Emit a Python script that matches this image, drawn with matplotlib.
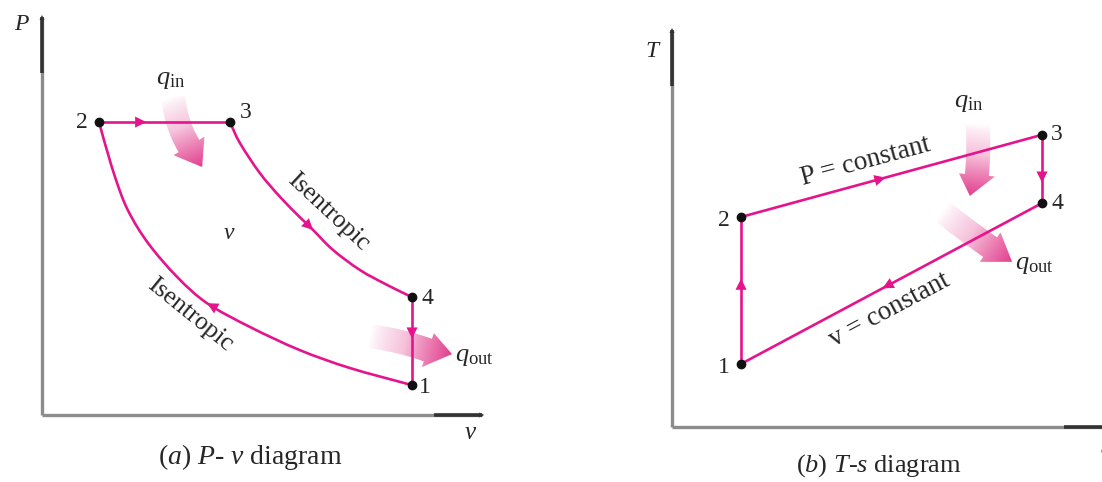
import numpy as np
import matplotlib.pyplot as plt
from matplotlib.path import Path
from matplotlib.patches import PathPatch
from matplotlib.colors import LinearSegmentedColormap

plt.rcParams['font.family'] = ['Liberation Serif', 'DejaVu Serif']
plt.rcParams['mathtext.fontset'] = 'custom'
plt.rcParams['mathtext.rm'] = 'Liberation Serif'
plt.rcParams['mathtext.it'] = 'Liberation Serif:italic'

# --- P-v diagram (arbitrary units) ---
pv_states = {'1': (8.41, 0.75), '2': (1.30, 7.36), '3': (4.27, 7.36), '4': (8.41, 2.96)}
# isentropic compression 1 -> 2
comp_v = [8.41, 7.00, 5.86, 4.73, 3.75, 3.07, 2.41, 1.95, 1.66, 1.39, 1.30]
comp_P = [0.75, 1.18, 1.63, 2.21, 2.81, 3.47, 4.32, 5.15, 5.98, 6.98, 7.36]
# isentropic expansion 3 -> 4
exp_v = [4.27, 4.50, 4.95, 5.41, 5.86, 6.16, 6.61, 7.23, 7.84, 8.41]
exp_P = [7.36, 6.83, 6.08, 5.48, 4.97, 4.65, 4.15, 3.64, 3.27, 2.96]

# --- T-s diagram (arbitrary units) ---
ts_states = {'1': (1.57, 1.59), '2': (1.57, 5.29), '3': (8.41, 7.36), '4': (8.41, 5.64)}

PINK = '#e6148c'
HEAT = '#e2408e'
INK = '#262626'

fig = plt.figure(figsize=(11.02, 4.82), dpi=100)
W, H = 1102, 482


def px_axes(left, bottom, right, top):
    ax = fig.add_axes([left / W, 1 - bottom / H, (right - left) / W, (bottom - top) / H])
    ax.set_xlim(0, 10)
    ax.set_ylim(0, 10)
    ax.set_autoscale_on(False)
    ax.axis('off')
    return ax


ax1 = px_axes(42, 415, 482, 17)
ax2 = px_axes(672, 427, 1112, 30)


def draw_axes_lines(ax, x_end=1.0):
    kw = dict(transform=ax.transAxes, clip_on=False, solid_capstyle='butt')
    ax.plot([0, 0], [0, 1], color='#8c8c8c', lw=2.4, **kw)
    ax.plot([0, 0], [0.86, 1], color='#333333', lw=2.6, **kw)
    ax.plot([0, x_end], [0, 0], color='#8c8c8c', lw=2.4, **kw)
    ax.plot([x_end - 0.11, x_end], [0, 0], color='#333333', lw=2.6, **kw)
    ax.annotate('', xy=(0, 1.005), xytext=(0, 0.97), xycoords='axes fraction',
                arrowprops=dict(arrowstyle='-|>', color='#333333', lw=0,
                                mutation_scale=9, shrinkA=0, shrinkB=0))
    ax.annotate('', xy=(x_end + 0.005, 0), xytext=(x_end - 0.03, 0), xycoords='axes fraction',
                arrowprops=dict(arrowstyle='-|>', color='#333333', lw=0,
                                mutation_scale=9, shrinkA=0, shrinkB=0))


def smooth_curve(ax, xs, ys, **kw):
    # cubic Bezier segments through the listed points (Catmull-Rom tangents)
    p = np.column_stack([xs, ys])
    ext = np.vstack([2 * p[0] - p[1], p, 2 * p[-1] - p[-2]])
    verts = [p[0]]
    codes = [Path.MOVETO]
    for i in range(len(p) - 1):
        a, b, c, d = ext[i], ext[i + 1], ext[i + 2], ext[i + 3]
        verts += [b + (c - a) / 6, c - (d - b) / 6, c]
        codes += [Path.CURVE4] * 3
    ax.add_patch(PathPatch(Path(verts, codes), facecolor='none', **kw))


def flow_arrow(ax, p_from, p_to):
    ax.annotate('', xy=p_to, xytext=p_from,
                arrowprops=dict(arrowstyle='-|>', color=PINK, lw=0,
                                mutation_scale=20, shrinkA=0, shrinkB=0))


def along(a, b, t):
    return (a[0] + (b[0] - a[0]) * t, a[1] + (b[1] - a[1]) * t)


def heat_arrow(ax, start, ctrl, base, tip, body=24, head=36):
    # build the curved arrow outline in pixels, then map back to data
    to_px = ax.transData.transform
    s, c, b, t = (np.array(to_px(p)) for p in (start, ctrl, base, tip))
    u = np.linspace(0, 1, 40)[:, None]
    centre = (1 - u) ** 2 * s + 2 * (1 - u) * u * c + u ** 2 * b
    tang = np.gradient(centre, axis=0)
    tang /= np.linalg.norm(tang, axis=1)[:, None]
    norm = np.column_stack([-tang[:, 1], tang[:, 0]])
    half = body / 2
    left = centre + norm * half
    right = centre - norm * half
    hn = norm[-1] * head / 2
    outline = np.vstack([left, [b + hn], [t], [b - hn], right[::-1], left[:1]])
    data = ax.transData.inverted().transform(outline)
    patch = PathPatch(Path(data), facecolor='none', edgecolor='none')
    ax.add_patch(patch)

    # gradient from pale to pink along start -> tip
    x0, x1 = data[:, 0].min(), data[:, 0].max()
    y0, y1 = data[:, 1].min(), data[:, 1].max()
    gx, gy = np.meshgrid(np.linspace(x0, x1, 120), np.linspace(y1, y0, 120))
    pts = ax.transData.transform(np.column_stack([gx.ravel(), gy.ravel()]))
    d = t - s
    frac = ((pts - s) @ d) / (d @ d)
    frac = np.clip(frac, 0, 1).reshape(gx.shape) ** 0.8
    cmap = LinearSegmentedColormap.from_list('heat', ['#ffffff', '#f6c3dc', HEAT])
    ax.imshow(frac, cmap=cmap, vmin=0, vmax=1, extent=(x0, x1, y0, y1),
              aspect='auto', clip_path=patch, zorder=1, interpolation='bilinear')


def state_labels(ax, states, offsets):
    for key, (x, y) in states.items():
        ax.plot(x, y, 'o', color='#111111', ms=6, zorder=5)
        dx, dy = offsets[key]
        ax.text(x + dx, y + dy, key, fontsize=17, color=INK, ha='center', va='center')


# ---------------- P-v ----------------
draw_axes_lines(ax1)
p1, p2, p3, p4 = (pv_states[k] for k in '1234')
smooth_curve(ax1, comp_v, comp_P, edgecolor=PINK, lw=1.9, zorder=3)
smooth_curve(ax1, exp_v, exp_P, edgecolor=PINK, lw=1.9, zorder=3)
ax1.plot([p2[0], p3[0]], [p2[1], p3[1]], color=PINK, lw=1.9, zorder=3)
ax1.plot([p4[0], p1[0]], [p4[1], p1[1]], color=PINK, lw=1.9, zorder=3)
flow_arrow(ax1, along(p2, p3, 0.15), along(p2, p3, 0.36))
flow_arrow(ax1, (exp_v[4], exp_P[4]), (exp_v[5], exp_P[5]))
flow_arrow(ax1, (comp_v[3], comp_P[3]), (comp_v[4], comp_P[4]))
flow_arrow(ax1, along(p4, p1, 0.2), along(p4, p1, 0.47))

heat_arrow(ax1, (2.98, 7.99), (3.05, 7.29), (3.34, 6.76), (3.64, 6.23))
heat_arrow(ax1, (7.45, 1.98), (8.14, 1.88), (8.77, 1.63), (9.32, 1.53))

state_labels(ax1, pv_states, {'1': (0.30, -0.05), '2': (-0.40, 0.0),
                              '3': (0.35, 0.25), '4': (0.35, -0.03)})
ax1.text(-0.48, 9.80, 'P', fontsize=17, style='italic', color=INK, ha='center', va='center')
ax1.text(9.73, -0.45, 'v', fontsize=18, style='italic', color=INK, ha='center', va='center')
ax1.text(4.25, 4.57, 'v', fontsize=17, style='italic', color=INK, ha='center', va='center')
ax1.text(2.93, 8.42, r'$q_{\rm in}$', fontsize=19, color=INK, ha='center', va='center')
ax1.text(9.39, 1.46, r'$q_{\rm out}$', fontsize=19, color=INK, ha='left', va='center')
ax1.text(6.50, 5.10, 'Isentropic', fontsize=18.5, color=INK, rotation=-43,
         ha='center', va='center', rotation_mode='anchor')
ax1.text(3.36, 2.51, 'Isentropic', fontsize=18.5, color=INK, rotation=-39,
         ha='center', va='center', rotation_mode='anchor')

# ---------------- T-s ----------------
draw_axes_lines(ax2, x_end=1.0)
t1, t2, t3, t4 = (ts_states[k] for k in '1234')
for a, b in [(t1, t2), (t2, t3), (t3, t4), (t4, t1)]:
    ax2.plot([a[0], b[0]], [a[1], b[1]], color=PINK, lw=1.9, zorder=3)
flow_arrow(ax2, along(t1, t2, 0.4), along(t1, t2, 0.58))
flow_arrow(ax2, along(t2, t3, 0.35), along(t2, t3, 0.48))
flow_arrow(ax2, along(t3, t4, 0.15), along(t3, t4, 0.7))
flow_arrow(ax2, along(t4, t1, 0.38), along(t4, t1, 0.53))

heat_arrow(ax2, (6.95, 7.63), (6.98, 6.98), (6.93, 6.35), (6.77, 5.82))
heat_arrow(ax2, (6.15, 5.42), (6.68, 4.96), (7.23, 4.53), (7.73, 4.16))

state_labels(ax2, ts_states, {'1': (-0.39, -0.08), '2': (-0.39, -0.08),
                              '3': (0.34, 0.0), '4': (0.34, 0.0)})
ax2.text(-0.45, 9.45, 'T', fontsize=17, style='italic', color=INK, ha='center', va='center')
ax2.text(9.85, -0.5, 's', fontsize=18, style='italic', color=INK, ha='center', va='center',
         clip_on=False)
ax2.text(6.75, 8.16, r'$q_{\rm in}$', fontsize=19, color=INK, ha='center', va='center')
ax2.text(7.80, 4.08, r'$q_{\rm out}$', fontsize=19, color=INK, ha='left', va='center')
ax2.text(4.41, 6.68, 'P = constant', fontsize=19.5, color=INK, rotation=15,
         ha='center', va='center', rotation_mode='anchor')
ax2.text(4.95, 2.95, 'v = constant', fontsize=19.5, color=INK, rotation=28,
         ha='center', va='center', rotation_mode='anchor')

fig.text(250 / W, 1 - 457 / H, r'($a$) $P$- $v$ diagram', fontsize=20, color=INK,
         ha='center', va='center')
fig.text(879 / W, 1 - 466 / H, r'($b$) $T$-$s$ diagram', fontsize=19, color=INK,
         ha='center', va='center')

fig.savefig('out.png', dpi=100, facecolor='white')
